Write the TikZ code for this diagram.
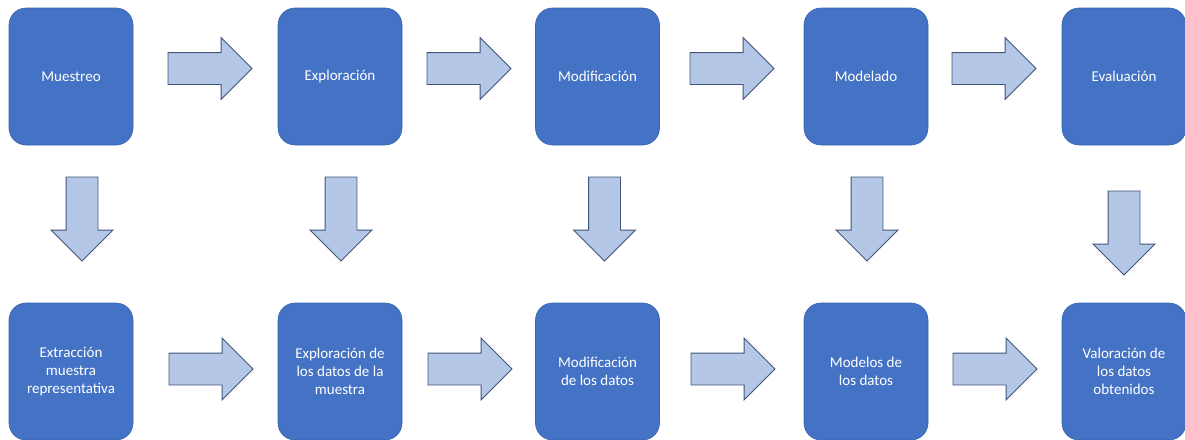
\documentclass[tikz,border=0pt]{standalone}
\usepackage{fontspec}
\setmainfont{Carlito}
\usetikzlibrary{shapes.arrows}
\definecolor{boxblue}{HTML}{4472C4}
\definecolor{boxedge}{HTML}{3A63AE}
\definecolor{arrfill}{HTML}{B4C7E7}
\definecolor{arredge}{HTML}{41557A}
\begin{document}
\begin{tikzpicture}[x=1pt,y=-1pt,
  stepbox/.style={draw=boxedge, line width=0.6pt, fill=boxblue, rounded corners=17pt,
    minimum width=124pt, minimum height=137pt, inner sep=0pt, text=white,
    font=\fontsize{15}{18.3}\selectfont, align=center},
  blockarrow/.style={single arrow, draw=arredge, fill=arrfill, line width=0.8pt,
    minimum height=84pt, minimum width=61pt, inner sep=15.5pt,
    single arrow head extend=15pt, single arrow tip angle=90, outer sep=0pt, anchor=tail},
  downarrow/.style={blockarrow, shape border rotate=270}
]
\useasboundingbox (0,0) rectangle (1185,439);
% top row
\node[stepbox] (t1) at (71,76.5) {Muestreo};
\node[stepbox] (t2) at (340,76.5) {Exploración};
\node[stepbox] (t3) at (597.5,76.5) {Modificación};
\node[stepbox] (t4) at (866,76.5) {Modelado};
\node[stepbox] (t5) at (1124,76.5) {Evaluación};
% bottom row
\node[stepbox] (b1) at (71,371.5) {Extracción\\muestra\\representativa};
\node[stepbox] (b2) at (340,371.5) {Exploración de\\los datos de la\\muestra};
\node[stepbox] (b3) at (597.5,371.5) {Modificación\\de los datos};
\node[stepbox] (b4) at (866,371.5) {Modelos de\\los datos};
\node[stepbox] (b5) at (1124,371.5) {Valoración de\\los datos\\obtenidos};
% top arrows
\node[blockarrow] (ta1) at (168,68.5) {};
\node[blockarrow] (ta2) at (427,68.5) {};
\node[blockarrow] (ta3) at (690,68.5) {};
\node[blockarrow] (ta4) at (952,68.5) {};
% bottom arrows
\node[blockarrow] (ba1) at (169,369) {};
\node[blockarrow] (ba2) at (428,369) {};
\node[blockarrow] (ba3) at (691,369) {};
\node[blockarrow] (ba4) at (953,369) {};
% down arrows
\node[downarrow] (da1) at (82,177) {};
\node[downarrow] (da2) at (341,177) {};
\node[downarrow] (da3) at (604.5,177) {};
\node[downarrow] (da4) at (867,177) {};
\node[downarrow] (da5) at (1124,191) {};
\end{tikzpicture}
\end{document}
